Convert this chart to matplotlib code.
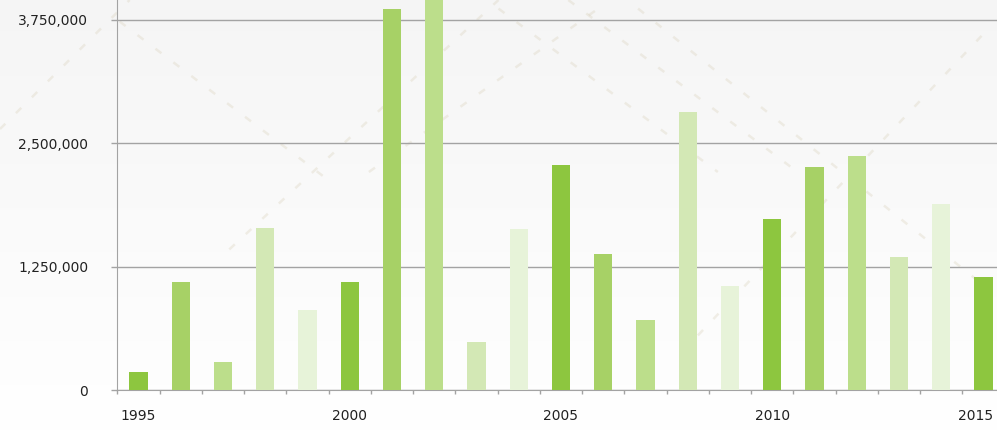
import numpy as np
import matplotlib
matplotlib.use("Agg")
import matplotlib.pyplot as plt
from matplotlib.ticker import FixedLocator, FuncFormatter
from matplotlib.transforms import ScaledTranslation

years = list(range(1995, 2016))
values = [185000, 1096000, 286000, 1643000, 813000,
          1096000, 3859000, 4100000, 489000, 1633000,
          2280000, 1380000, 711000, 2817000, 1056000,
          1734000, 2257000, 2371000, 1349000, 1886000, 1147000]
palette = ["#8dc63f", "#a7d166", "#bcde8b", "#d3e8b5", "#e7f3d9"]
label_years = [1995, 2000, 2005, 2010, 2015]
y_ticks = [0, 1250000, 2500000, 3750000]

W, H = 997, 430
fig = plt.figure(figsize=(W / 100, H / 100), dpi=100)

# background: light grey gradient fading to white + faint dashed diagonals
bg = fig.add_axes([0, 0, 1, 1], zorder=-10)
grad = np.linspace(0.962, 1.0, 256).reshape(-1, 1)
bg.imshow(np.dstack([grad, grad, grad]), extent=[0, 1, 0, 1], aspect="auto",
          origin="upper", interpolation="bicubic")
diag = [((0.0, 0.70), (0.13, 1.0)), ((0.12, 0.95), (0.33, 0.58)),
        ((0.23, 0.42), (0.50, 1.0)), ((0.50, 0.98), (0.72, 0.60)),
        ((0.64, 0.98), (0.99, 0.33)), ((0.70, 0.22), (0.99, 0.93)),
        ((0.37, 0.60), (0.60, 0.98)), ((0.57, 1.0), (0.80, 0.60))]
for (x0, y0), (x1, y1) in diag:
    bg.plot([x0, x1], [y0, y1], ls=(0, (3, 6)), lw=1.8, color="#d6cdb4", alpha=0.3)
bg.set_xlim(0, 1)
bg.set_ylim(0, 1)
bg.axis("off")

# main axes (extends beyond the right and top of the image, like the reference crop)
left_px, bottom_px, band_px = 117.3, 40.0, 42.25
ax = fig.add_axes([left_px / W, bottom_px / H, band_px * 21 / W, 1.2])
ax.patch.set_alpha(0)

x = np.arange(len(years))
colors = [palette[i % len(palette)] for i in range(len(years))]
ax.bar(x, values, width=0.43, color=colors, zorder=3)

ax.set_xlim(-0.5, len(years) - 0.5)
px_per_unit = 123.4 / 1250000
top_val = (H * 1.2) / px_per_unit
ax.set_ylim(0, top_val)

ax.yaxis.set_major_locator(FixedLocator(y_ticks))
ax.yaxis.set_major_formatter(FuncFormatter(lambda v, p: f"{int(v):,}"))
ax.grid(axis="y", color="#a3a3a3", lw=1.0, zorder=1)
ax.tick_params(axis="y", length=4, width=1, color="#a3a3a3", pad=17,
               labelsize=10, labelcolor="#222222")

ax.set_xticks([years.index(y) for y in label_years])
ax.set_xticklabels([str(y) for y in label_years])
ax.set_xticks(np.arange(-0.5, len(years), 1.0), minor=True)
ax.tick_params(axis="x", which="major", length=0, pad=14, labelsize=10,
               labelcolor="#222222")
ax.tick_params(axis="x", which="minor", length=3, width=1, color="#a3a3a3")

last = ax.get_xticklabels()[-1]
last.set_transform(last.get_transform() + ScaledTranslation(-8 / 100, 0, fig.dpi_scale_trans))

for s in ["top", "right"]:
    ax.spines[s].set_visible(False)
ax.spines["left"].set_color("#a3a3a3")
ax.spines["bottom"].set_color("#a3a3a3")

fig.savefig("out.png", dpi=100)
